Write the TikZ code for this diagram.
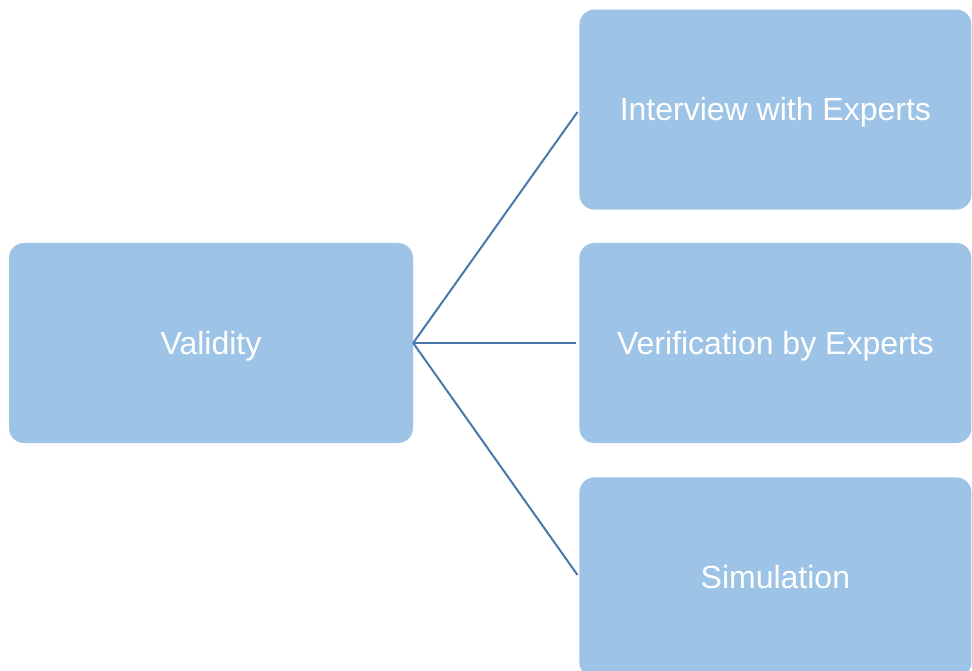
\documentclass[tikz,border=0pt]{standalone}
\usepackage{fontspec}
\setmainfont{Liberation Sans}
\usetikzlibrary{positioning}
\definecolor{boxblue}{HTML}{9DC3E6}
\definecolor{lineblue}{HTML}{4A78A8}
\tikzstyle{vbox}=[rectangle, rounded corners=15pt, fill=boxblue, text=white,
                  minimum width=404pt, minimum height=200pt, inner sep=0pt,
                  text height=29pt, text depth=7pt,
                  text centered, font=\fontsize{32}{38}\selectfont]
\tikzstyle{mbox}=[vbox, minimum width=392pt]
\tikzstyle{vline}=[-, draw=lineblue, line width=2pt, shorten >=3pt]
\begin{document}
\begin{tikzpicture}[node distance=0mm]
\useasboundingbox (0,0) rectangle (972pt,-671pt);
\clip (0,0) rectangle (972pt,-671pt);

\node (VALID) [vbox] at (211pt,-343pt) {Validity};

\node (VEXP) [mbox, right=166pt of VALID] {Verification by Experts};
\node (IEXP) [mbox, above=33pt of VEXP] {Interview with Experts};
\node (SIM) [mbox, below=34pt of VEXP] {Simulation};

 \draw[vline] (VALID.east) -- (IEXP.west);
 \draw[vline] (VALID.east) -- (VEXP.west);
 \draw[vline] (VALID.east) -- (SIM.west);

\end{tikzpicture}
\end{document}
